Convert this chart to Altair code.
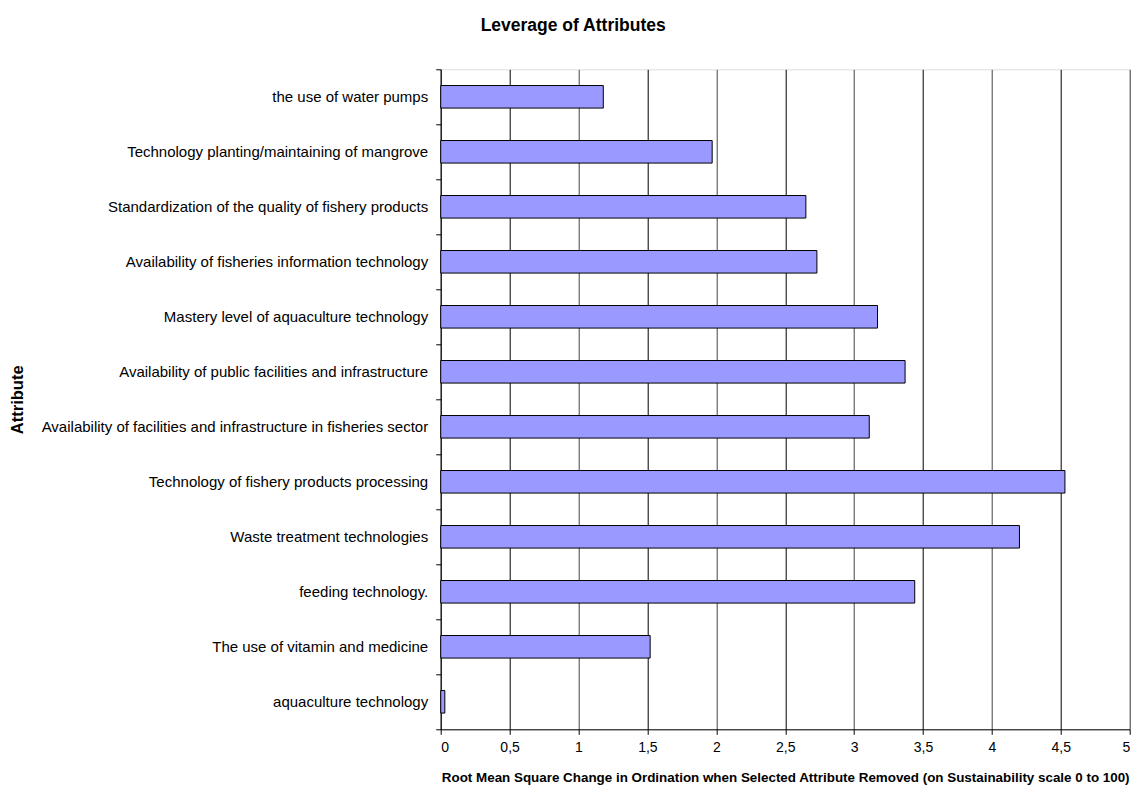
import altair as alt
import pandas as pd

attributes = [
    "the use of water pumps",
    "Technology planting/maintaining of mangrove",
    "Standardization of the quality of fishery products",
    "Availability of fisheries information technology",
    "Mastery level of aquaculture technology",
    "Availability of public facilities and infrastructure",
    "Availability of facilities and infrastructure in fisheries sector",
    "Technology of fishery products processing",
    "Waste treatment technologies",
    "feeding technology.",
    "The use of vitamin and medicine",
    "aquaculture technology",
]
leverage = [1.18, 1.97, 2.65, 2.73, 3.17, 3.37, 3.11, 4.53, 4.20, 3.44, 1.52, 0.03]
x_ticks = [0, 0.5, 1, 1.5, 2, 2.5, 3, 3.5, 4, 4.5, 5]

df = pd.DataFrame({"Attribute": attributes, "Leverage": leverage})

FONT = "Liberation Sans"

bars = alt.Chart(df).mark_bar(
    fill="#9999FF", stroke="black", strokeWidth=1, height=alt.RelativeBandSize(0.41)
).encode(
    y=alt.Y(
        "Attribute:N",
        sort=attributes,
        scale=alt.Scale(paddingInner=0, paddingOuter=0),
        axis=alt.Axis(
            title="Attribute",
            tickBand="extent",
            grid=False,
            domainColor="black",
            tickColor="black",
            tickSize=5,
            labelPadding=8,
            labelFont=FONT,
            labelFontSize=15,
            labelColor="black",
            labelLimit=500,
            titleFont=FONT,
            titleFontSize=16.5,
            titleFontWeight="bold",
            titleColor="black",
            titleX=-423,
            titleY=330,
            titleBaseline="middle",
            titleAngle=270,
        ),
    ),
    x=alt.X(
        "Leverage:Q",
        scale=alt.Scale(domain=[0, 5], nice=False, zero=True),
        axis=alt.Axis(
            title="Root Mean Square Change in Ordination when Selected Attribute Removed (on Sustainability scale 0 to 100)",
            values=x_ticks,
            labelExpr="replace(format(datum.value, '~g'), '.', ',')",
            grid=True,
            gridColor=alt.condition("datum.value % 1 == 0", alt.value("#454545"), alt.value("black")),
            gridOpacity=1,
            domainColor="black",
            tickColor="black",
            tickSize=5,
            labelPadding=6,
            labelFont=FONT,
            labelFontSize=14,
            labelColor="black",
            titleFont=FONT,
            titleFontSize=13.4,
            titleFontWeight="bold",
            titleColor="black",
            titleY=48,
            titleBaseline="middle",
        ),
    ),
).properties(
    width=689,
    height=660,
    title=alt.TitleParams(
        "Leverage of Attributes",
        font=FONT,
        fontSize=17.5,
        fontWeight="bold",
        color="black",
        anchor="middle",
        dx=-212,
        baseline="bottom",
        offset=10,
    ),
    autosize=alt.AutoSizeParams(type="none"),
    padding={"left": 432.7, "top": 61.3, "right": 7.3, "bottom": 56.7},
).configure_view(
    fill="#C0C0C0", stroke="#808080"
).configure(background="white")

bars.save("out.html", embed_options={"renderer": "svg", "actions": False})
